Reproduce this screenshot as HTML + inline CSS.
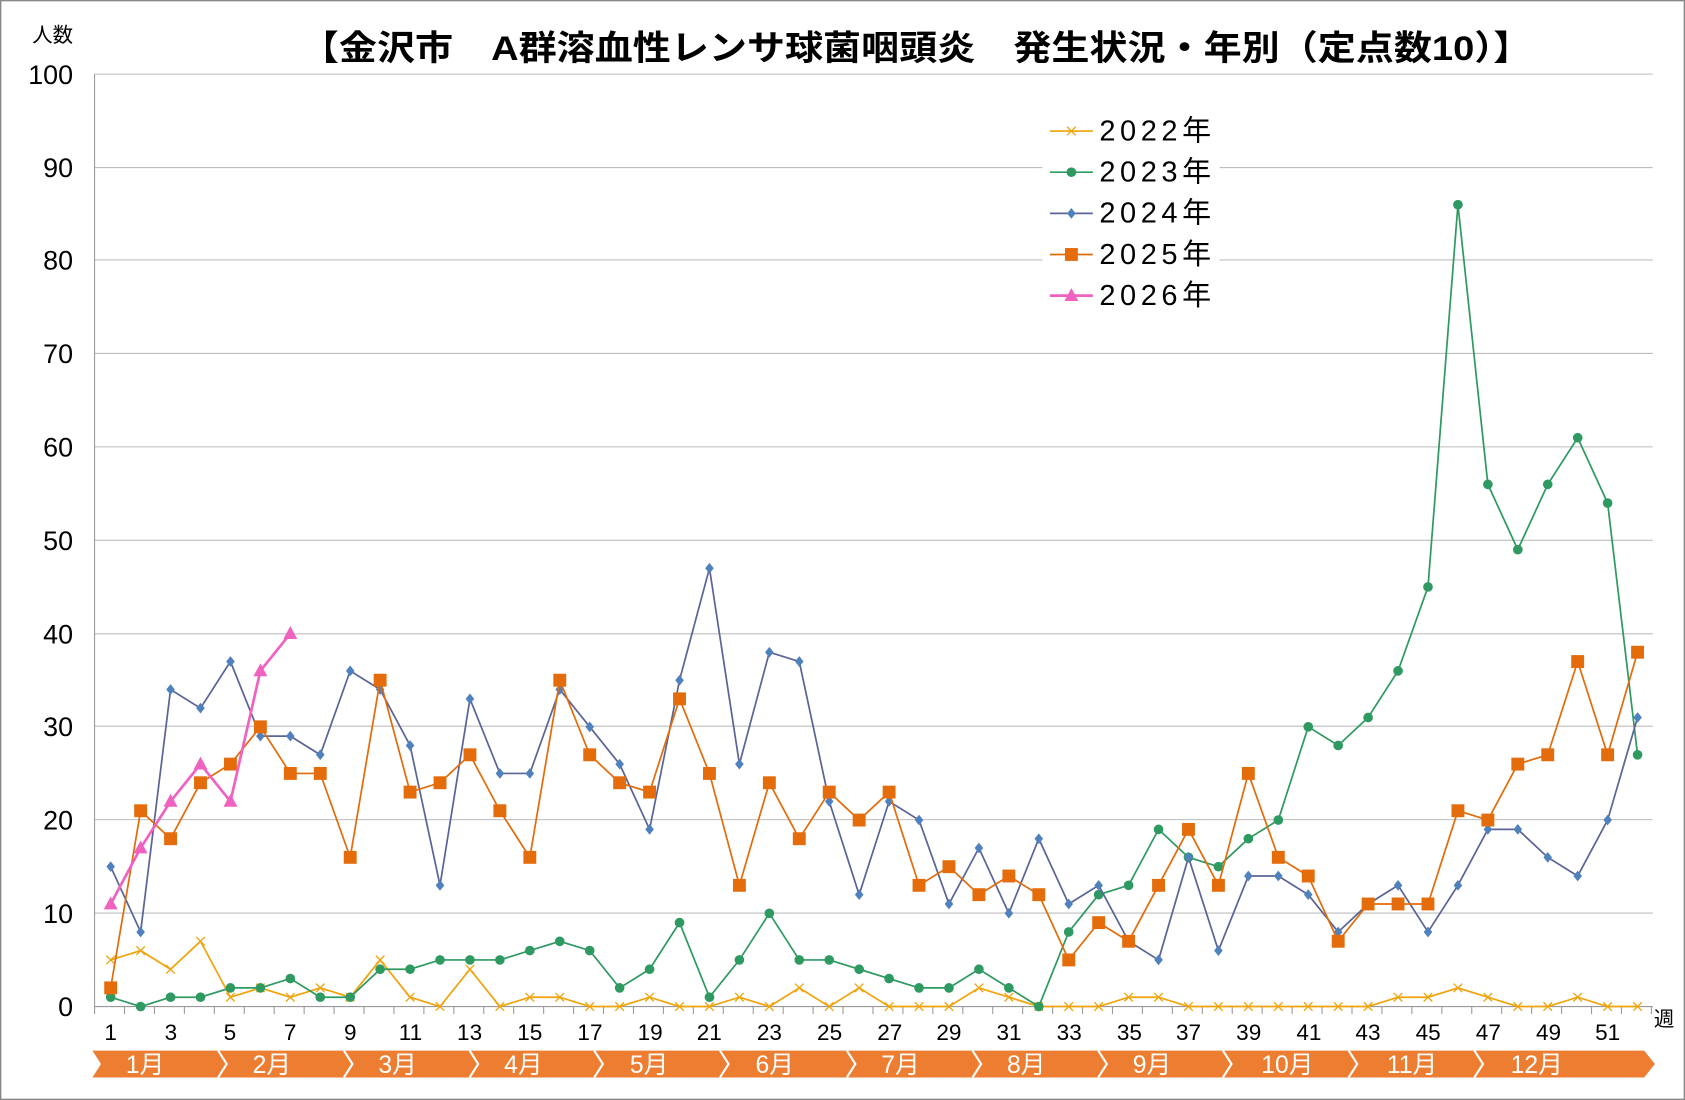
<!DOCTYPE html>
<html><head><meta charset="utf-8"><style>
html,body{margin:0;padding:0;background:#fff;}
svg{display:block;}
text{font-family:"Liberation Sans","Noto Sans CJK JP",sans-serif;}
</style></head><body>
<svg id="s" width="1685" height="1100" viewBox="0 0 1568 1024" preserveAspectRatio="none" xmlns="http://www.w3.org/2000/svg">
<rect x="0.5" y="0.5" width="1567" height="1023" fill="#fff" stroke="#888" stroke-width="1.5"/>
<g stroke="#bdbdbd" stroke-width="1">
<line x1="88" y1="69" x2="1538" y2="69"/><line x1="88" y1="156" x2="1538" y2="156"/><line x1="88" y1="242" x2="1538" y2="242"/><line x1="88" y1="329" x2="1538" y2="329"/><line x1="88" y1="416" x2="1538" y2="416"/><line x1="88" y1="503" x2="1538" y2="503"/><line x1="88" y1="590" x2="1538" y2="590"/><line x1="88" y1="676" x2="1538" y2="676"/><line x1="88" y1="763" x2="1538" y2="763"/><line x1="88" y1="850" x2="1538" y2="850"/>
</g>
<line x1="88" y1="69" x2="88" y2="937" stroke="#999"/>
<line x1="88" y1="937" x2="1538" y2="937" stroke="#999"/>
<g id="ticks" stroke="#999"></g>
<g font-size="25" text-anchor="end" fill="#000">
<text x="68" y="946">0</text><text x="68" y="859">10</text><text x="68" y="772">20</text><text x="68" y="685">30</text><text x="68" y="599">40</text><text x="68" y="512">50</text><text x="68" y="425">60</text><text x="68" y="338">70</text><text x="68" y="251">80</text><text x="68" y="165">90</text><text x="68" y="78">100</text>
</g>
<g font-size="21" text-anchor="middle" fill="#000">
<text x="103" y="968">1</text><text x="159" y="968">3</text><text x="214" y="968">5</text><text x="270" y="968">7</text><text x="326" y="968">9</text><text x="382" y="968">11</text><text x="437" y="968">13</text><text x="493" y="968">15</text><text x="549" y="968">17</text><text x="605" y="968">19</text><text x="660" y="968">21</text><text x="716" y="968">23</text><text x="772" y="968">25</text><text x="828" y="968">27</text><text x="883" y="968">29</text><text x="939" y="968">31</text><text x="995" y="968">33</text><text x="1051" y="968">35</text><text x="1106" y="968">37</text><text x="1162" y="968">39</text><text x="1218" y="968">41</text><text x="1273" y="968">43</text><text x="1329" y="968">45</text><text x="1385" y="968">47</text><text x="1441" y="968">49</text><text x="1496" y="968">51</text>
</g>
<text x="1539" y="955" font-size="19">週</text>
<text x="30" y="39" font-size="19">人数</text>
<text x="280" y="56" font-size="32" font-weight="bold" textLength="1145" lengthAdjust="spacingAndGlyphs">【金沢市　A群溶血性レンサ球菌咽頭炎　発生状況・年別（定点数10）】</text>
<polygon points="86,978 1530,978 1540,990.5 1530,1003 86,1003 94,990.5" fill="#ED7D31"/>
<g stroke="#fff" stroke-width="2" fill="none">
<polyline points="203,978 211,990.5 203,1003"/><polyline points="320,978 328,990.5 320,1003"/><polyline points="437,978 445,990.5 437,1003"/><polyline points="553,978 561,990.5 553,1003"/><polyline points="670,978 678,990.5 670,1003"/><polyline points="788,978 796,990.5 788,1003"/><polyline points="905,978 913,990.5 905,1003"/><polyline points="1022,978 1030,990.5 1022,1003"/><polyline points="1138,978 1146,990.5 1138,1003"/><polyline points="1255,978 1263,990.5 1255,1003"/><polyline points="1372,978 1380,990.5 1372,1003"/>
</g>
<g font-size="23" fill="#fff" text-anchor="middle">
<text x="135" y="999">1月</text><text x="253" y="999">2月</text><text x="370" y="999">3月</text><text x="487" y="999">4月</text><text x="604" y="999">5月</text><text x="721" y="999">6月</text><text x="838" y="999">7月</text><text x="955" y="999">8月</text><text x="1072" y="999">9月</text><text x="1198" y="999">10月</text><text x="1314" y="999">11月</text><text x="1430" y="999">12月</text>
</g>
<g id="series"></g>
<rect x="970" y="104" width="165" height="190" fill="#fff"/>
<g font-size="27" fill="#000">
<text x="1023" y="131" textLength="104">2022年</text><text x="1023" y="169" textLength="104">2023年</text><text x="1023" y="207" textLength="104">2024年</text><text x="1023" y="246" textLength="104">2025年</text><text x="1023" y="284" textLength="104">2026年</text>
</g>
<g id="leg"></g>
</svg>
<script>
var NS="http://www.w3.org/2000/svg",svg=document.getElementById('s');
function X(w){return 103+(w-1)*27.86;}function Y(v){return 937-v*8.68;}
function el(p,t,a){var e=document.createElementNS(NS,t);for(var k in a)e.setAttribute(k,a[k]);p.appendChild(e);return e;}
var tk=document.getElementById('ticks');
for(var i=0;i<=52;i++){var x=88+i*27.86;el(tk,'line',{x1:x,y1:937,x2:x,y2:944});}
var S=[
{c:"#F0A30A",m:"x",d:[5,6,4,7,1,2,1,2,1,5,1,0,4,0,1,1,0,0,1,0,0,1,0,2,0,2,0,0,0,2,1,0,0,0,1,1,0,0,0,0,0,0,0,1,1,2,1,0,0,1,0,0]},
{c:"#2E9A62",m:"o",d:[1,0,1,1,2,2,3,1,1,4,4,5,5,5,6,7,6,2,4,9,1,5,10,5,5,4,3,2,2,4,2,0,8,12,13,19,16,15,18,20,30,28,31,36,45,86,56,49,56,61,54,27]},
{c:"#5B6496",m:"d",f:"#4F81BD",d:[15,8,34,32,37,29,29,27,36,34,28,13,33,25,25,34,30,26,19,35,47,26,38,37,22,12,22,20,11,17,10,18,11,13,7,5,16,6,14,14,12,8,11,13,8,13,19,19,16,14,20,31]},
{c:"#E36C0A",m:"s",f:"#E46C0A",d:[2,21,18,24,26,30,25,25,16,35,23,24,27,21,16,35,27,24,23,33,25,13,24,18,23,20,23,13,15,12,14,12,5,9,7,13,19,13,25,16,14,7,11,11,11,21,20,26,27,37,27,38]},
{c:"#F062C0",m:"t",d:[11,17,22,26,22,36,40],w:2.5}];
function mk(g,s,x,y){var f=s.f||s.c;
 if(s.m=="x"){el(g,'path',{d:"M"+(x-4)+","+(y-4)+"L"+(x+4)+","+(y+4)+"M"+(x-4)+","+(y+4)+"L"+(x+4)+","+(y-4),stroke:s.c,'stroke-width':1.2});}
 else if(s.m=="o")el(g,'circle',{cx:x,cy:y,r:4.5,fill:f});
 else if(s.m=="d")el(g,'polygon',{points:x+","+(y-5)+" "+(x+4)+","+y+" "+x+","+(y+5)+" "+(x-4)+","+y,fill:f});
 else if(s.m=="s")el(g,'rect',{x:x-6,y:y-6,width:12,height:12,fill:f});
 else el(g,'polygon',{points:x+","+(y-7)+" "+(x+6.5)+","+(y+5)+" "+(x-6.5)+","+(y+5),fill:f});}
var g=document.getElementById('series');
S.forEach(function(s){var p=s.d.map(function(v,i){return X(i+1)+","+Y(v)}).join(" ");
 el(g,'polyline',{points:p,fill:"none",stroke:s.c,'stroke-width':s.w||1.6});
 s.d.forEach(function(v,i){mk(g,s,X(i+1),Y(v));});});
var lg=document.getElementById('leg');
S.forEach(function(s,i){var y=122+i*38.3;el(lg,'line',{x1:977,y1:y,x2:1017,y2:y,stroke:s.c,'stroke-width':s.w||1.6});mk(lg,s,997,y);});
</script>
</body></html>
